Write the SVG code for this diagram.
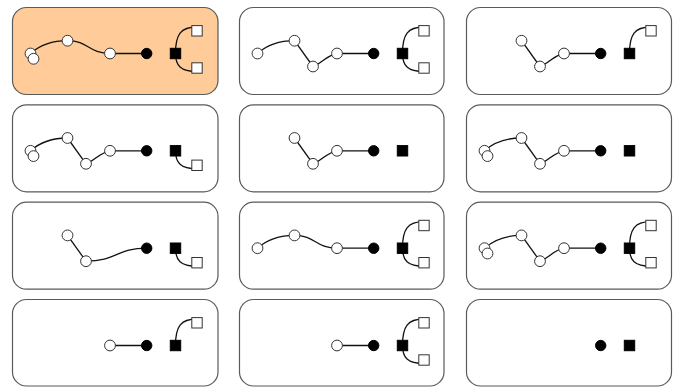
<svg xmlns="http://www.w3.org/2000/svg" width="685" height="387" viewBox="0 0 685 387">
  <style>
    .panel { fill: #ffffff; stroke: #5a5a5a; stroke-width: 1.2; }
    .panel.active { fill: #ffcc99; }
    .edge { fill: none; stroke: #111111; stroke-width: 1.3; }
    .edge.fading { stroke: #707070; }
    .wn { fill: #ffffff; stroke: #333333; stroke-width: 1; }
    .bn { fill: #000000; stroke: #000000; stroke-width: 1; }
    .ws { fill: #ffffff; stroke: #333333; stroke-width: 1; }
    .bs { fill: #000000; stroke: #000000; stroke-width: 1; }
  </style>
  <defs>
    <!-- shared shapes, placed per panel with <use> -->
    <circle id="wnode" class="wn" r="5.4"/>
    <circle id="bnode" class="bn" r="5.2"/>
    <rect id="wsq" class="ws" x="-5.2" y="-5.2" width="10.4" height="10.4"/>
    <rect id="bsq" class="bs" x="-5.2" y="-5.2" width="10.4" height="10.4"/>
    <!-- connector shapes in panel-local coordinates -->
    <path id="e-ab" d="M18,46 C27,38 40,33.2 55,33.2"/>
    <path id="e-bc" d="M55,33.2 C76,33.2 76,46 97.5,46"/>
    <path id="e-bd" d="M55,33.2 L73.5,59"/>
    <path id="e-dc" d="M73.5,59 C82,56 87,48 97.5,46"/>
    <path id="e-ce" d="M97.5,46 L134.2,46"/>
    <path id="e-de" d="M73.5,59 C104,59 104,46 134.2,46"/>
    <path id="e-fg" d="M163,46 C163,27 168,19.5 184.5,19.5"/>
    <path id="e-fh" d="M163,46 C163,58 168,64 184.5,64"/>
  </defs>

  <!-- row 1 -->
  <g id="panel-1" transform="translate(12.5,7.5)">
    <rect class="panel active" width="205.5" height="87" rx="14"/>
    <g id="panel-1-connectors" class="edge">
      <use href="#e-ab"/><use href="#e-bc"/><use href="#e-ce"/><use href="#e-fg"/><use href="#e-fh"/>
    </g>
    <g id="p1-a1"><use href="#wnode" x="18" y="46"/></g>
    <g id="p1-a2"><use href="#wnode" x="21" y="51.3"/></g>
    <g id="p1-b"><use href="#wnode" x="55" y="33.2"/></g>
    <g id="p1-c"><use href="#wnode" x="97.5" y="46"/></g>
    <g id="p1-e"><use href="#bnode" x="134.2" y="46"/></g>
    <g id="p1-f"><use href="#bsq" x="163" y="46"/></g>
    <g id="p1-g"><use href="#wsq" x="184.5" y="23.3"/></g>
    <g id="p1-h"><use href="#wsq" x="184.5" y="60.5"/></g>
  </g>

  <g id="panel-2" transform="translate(239.5,7.5)">
    <rect class="panel" width="204.5" height="87" rx="14"/>
    <g id="panel-2-connectors" class="edge">
      <use href="#e-ab"/><use href="#e-bd"/><use href="#e-dc"/><use href="#e-ce"/><use href="#e-fg"/><use href="#e-fh"/>
    </g>
    <g id="p2-a"><use href="#wnode" x="18" y="46"/></g>
    <g id="p2-b"><use href="#wnode" x="55" y="33.2"/></g>
    <g id="p2-d"><use href="#wnode" x="73.5" y="59"/></g>
    <g id="p2-c"><use href="#wnode" x="97.5" y="46"/></g>
    <g id="p2-e"><use href="#bnode" x="134.2" y="46"/></g>
    <g id="p2-f"><use href="#bsq" x="163" y="46"/></g>
    <g id="p2-g"><use href="#wsq" x="184.5" y="23.3"/></g>
    <g id="p2-h"><use href="#wsq" x="184.5" y="60.5"/></g>
  </g>

  <g id="panel-3" transform="translate(466.5,7.5)">
    <rect class="panel" width="205" height="87" rx="14"/>
    <g id="panel-3-connectors" class="edge">
      <use href="#e-bd"/><use href="#e-dc"/><use href="#e-ce"/><use href="#e-fg"/>
    </g>
    <g id="p3-b"><use href="#wnode" x="55" y="33.2"/></g>
    <g id="p3-d"><use href="#wnode" x="73.5" y="59"/></g>
    <g id="p3-c"><use href="#wnode" x="97.5" y="46"/></g>
    <g id="p3-e"><use href="#bnode" x="134.2" y="46"/></g>
    <g id="p3-f"><use href="#bsq" x="163" y="46"/></g>
    <g id="p3-g"><use href="#wsq" x="184.5" y="23.3"/></g>
  </g>

  <!-- row 2 -->
  <g id="panel-4" transform="translate(12.5,104.8)">
    <rect class="panel" width="205.5" height="87" rx="14"/>
    <g id="panel-4-connectors" class="edge">
      <use href="#e-ab"/><use href="#e-bd"/><use href="#e-dc"/><use href="#e-ce"/><use href="#e-fh"/>
    </g>
    <g id="p4-a1"><use href="#wnode" x="18" y="46"/></g>
    <g id="p4-a2"><use href="#wnode" x="21" y="51.3"/></g>
    <g id="p4-b"><use href="#wnode" x="55" y="33.2"/></g>
    <g id="p4-d"><use href="#wnode" x="73.5" y="59"/></g>
    <g id="p4-c"><use href="#wnode" x="97.5" y="46"/></g>
    <g id="p4-e"><use href="#bnode" x="134.2" y="46"/></g>
    <g id="p4-f"><use href="#bsq" x="163" y="46"/></g>
    <g id="p4-h"><use href="#wsq" x="184.5" y="60.5"/></g>
  </g>

  <g id="panel-5" transform="translate(239.5,104.8)">
    <rect class="panel" width="204.5" height="87" rx="14"/>
    <g id="panel-5-connectors" class="edge">
      <use href="#e-bd"/><use href="#e-dc"/><use href="#e-ce"/>
    </g>
    <g id="p5-b"><use href="#wnode" x="55" y="33.2"/></g>
    <g id="p5-d"><use href="#wnode" x="73.5" y="59"/></g>
    <g id="p5-c"><use href="#wnode" x="97.5" y="46"/></g>
    <g id="p5-e"><use href="#bnode" x="134.2" y="46"/></g>
    <g id="p5-f"><use href="#bsq" x="163" y="46"/></g>
  </g>

  <g id="panel-6" transform="translate(466.5,104.8)">
    <rect class="panel" width="205" height="87" rx="14"/>
    <g id="panel-6-connectors" class="edge">
      <use href="#e-ab"/><use href="#e-bd"/><use href="#e-dc"/><use href="#e-ce"/>
    </g>
    <g id="p6-a1"><use href="#wnode" x="18" y="46"/></g>
    <g id="p6-a2"><use href="#wnode" x="21" y="51.3"/></g>
    <g id="p6-b"><use href="#wnode" x="55" y="33.2"/></g>
    <g id="p6-d"><use href="#wnode" x="73.5" y="59"/></g>
    <g id="p6-c"><use href="#wnode" x="97.5" y="46"/></g>
    <g id="p6-e"><use href="#bnode" x="134.2" y="46"/></g>
    <g id="p6-f"><use href="#bsq" x="163" y="46"/></g>
  </g>

  <!-- row 3 -->
  <g id="panel-7" transform="translate(12.5,202.2)">
    <rect class="panel" width="205.5" height="87" rx="14"/>
    <g id="panel-7-connectors" class="edge">
      <use href="#e-bd"/><use class="fading" href="#e-de"/><use href="#e-fh"/>
    </g>
    <g id="p7-b"><use href="#wnode" x="55" y="33.2"/></g>
    <g id="p7-d"><use href="#wnode" x="73.5" y="59"/></g>
    <g id="p7-e"><use href="#bnode" x="134.2" y="46"/></g>
    <g id="p7-f"><use href="#bsq" x="163" y="46"/></g>
    <g id="p7-h"><use href="#wsq" x="184.5" y="60.5"/></g>
  </g>

  <g id="panel-8" transform="translate(239.5,202.2)">
    <rect class="panel" width="204.5" height="87" rx="14"/>
    <g id="panel-8-connectors" class="edge">
      <use href="#e-ab"/><use href="#e-bc"/><use href="#e-ce"/><use href="#e-fg"/><use href="#e-fh"/>
    </g>
    <g id="p8-a"><use href="#wnode" x="18" y="46"/></g>
    <g id="p8-b"><use href="#wnode" x="55" y="33.2"/></g>
    <g id="p8-c"><use href="#wnode" x="97.5" y="46"/></g>
    <g id="p8-e"><use href="#bnode" x="134.2" y="46"/></g>
    <g id="p8-f"><use href="#bsq" x="163" y="46"/></g>
    <g id="p8-g"><use href="#wsq" x="184.5" y="23.3"/></g>
    <g id="p8-h"><use href="#wsq" x="184.5" y="60.5"/></g>
  </g>

  <g id="panel-9" transform="translate(466.5,202.2)">
    <rect class="panel" width="205" height="87" rx="14"/>
    <g id="panel-9-connectors" class="edge">
      <use href="#e-ab"/><use href="#e-bd"/><use href="#e-dc"/><use href="#e-ce"/><use href="#e-fg"/><use href="#e-fh"/>
    </g>
    <g id="p9-a1"><use href="#wnode" x="18" y="46"/></g>
    <g id="p9-a2"><use href="#wnode" x="21" y="51.3"/></g>
    <g id="p9-b"><use href="#wnode" x="55" y="33.2"/></g>
    <g id="p9-d"><use href="#wnode" x="73.5" y="59"/></g>
    <g id="p9-c"><use href="#wnode" x="97.5" y="46"/></g>
    <g id="p9-e"><use href="#bnode" x="134.2" y="46"/></g>
    <g id="p9-f"><use href="#bsq" x="163" y="46"/></g>
    <g id="p9-g"><use href="#wsq" x="184.5" y="23.3"/></g>
    <g id="p9-h"><use href="#wsq" x="184.5" y="60.5"/></g>
  </g>

  <!-- row 4 -->
  <g id="panel-10" transform="translate(12.5,299.5)">
    <rect class="panel" width="205.5" height="86.5" rx="14"/>
    <g id="panel-10-connectors" class="edge">
      <use href="#e-ce"/><use href="#e-fg"/>
    </g>
    <g id="p10-c"><use href="#wnode" x="97.5" y="46"/></g>
    <g id="p10-e"><use href="#bnode" x="134.2" y="46"/></g>
    <g id="p10-f"><use href="#bsq" x="163" y="46"/></g>
    <g id="p10-g"><use href="#wsq" x="184.5" y="23.3"/></g>
  </g>

  <g id="panel-11" transform="translate(239.5,299.5)">
    <rect class="panel" width="204.5" height="86.5" rx="14"/>
    <g id="panel-11-connectors" class="edge">
      <use href="#e-ce"/><use href="#e-fg"/><use href="#e-fh"/>
    </g>
    <g id="p11-c"><use href="#wnode" x="97.5" y="46"/></g>
    <g id="p11-e"><use href="#bnode" x="134.2" y="46"/></g>
    <g id="p11-f"><use href="#bsq" x="163" y="46"/></g>
    <g id="p11-g"><use href="#wsq" x="184.5" y="23.3"/></g>
    <g id="p11-h"><use href="#wsq" x="184.5" y="60.5"/></g>
  </g>

  <g id="panel-12" transform="translate(466.5,299.5)">
    <rect class="panel" width="205" height="86.5" rx="14"/>
    <g id="p12-e"><use href="#bnode" x="134.2" y="46"/></g>
    <g id="p12-f"><use href="#bsq" x="163" y="46"/></g>
  </g>
</svg>
